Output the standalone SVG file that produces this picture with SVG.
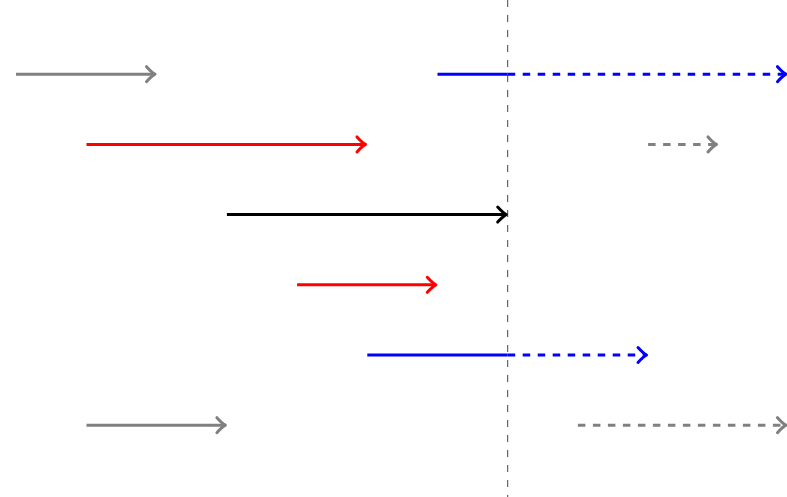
<svg xmlns="http://www.w3.org/2000/svg" width="787" height="497" viewBox="0 0 787 497">
  <style>
    .a { fill: none; stroke-width: 3; }
    .d { stroke-dasharray: 7.5 7.5; }
    .gray { stroke: #808080; }
    .red { stroke: #ff0000; }
    .blue { stroke: #0000ff; }
    .black { stroke: #000000; }
    .tip { fill: none; stroke-width: 3; stroke-linecap: round; stroke-linejoin: round; }
    .axis { stroke: #444444; stroke-width: 1; stroke-dasharray: 7 8; fill: none; }
  </style>
  <defs>
    <marker id="mGray" markerUnits="userSpaceOnUse" viewBox="-13 -11 15 22" markerWidth="15" markerHeight="22" refX="0" refY="0" orient="auto" overflow="visible">
      <path class="tip" stroke="#808080" d="M -8.5 -7.5 Q -3 -1.5 0 0 Q -3 1.5 -8.5 7.5"/>
    </marker>
    <marker id="mRed" markerUnits="userSpaceOnUse" viewBox="-13 -11 15 22" markerWidth="15" markerHeight="22" refX="0" refY="0" orient="auto" overflow="visible">
      <path class="tip" stroke="#ff0000" d="M -8.5 -7.5 Q -3 -1.5 0 0 Q -3 1.5 -8.5 7.5"/>
    </marker>
    <marker id="mBlue" markerUnits="userSpaceOnUse" viewBox="-13 -11 15 22" markerWidth="15" markerHeight="22" refX="0" refY="0" orient="auto" overflow="visible">
      <path class="tip" stroke="#0000ff" d="M -8.5 -7.5 Q -3 -1.5 0 0 Q -3 1.5 -8.5 7.5"/>
    </marker>
    <marker id="mBlack" markerUnits="userSpaceOnUse" viewBox="-13 -11 15 22" markerWidth="15" markerHeight="22" refX="0" refY="0" orient="auto" overflow="visible">
      <path class="tip" stroke="#000000" d="M -8.5 -7.5 Q -3 -1.5 0 0 Q -3 1.5 -8.5 7.5"/>
    </marker>
  </defs>

  <rect width="787" height="497" fill="#ffffff"/>

  <g id="now-line">
    <line class="axis" x1="507.7" y1="0" x2="507.7" y2="497"/>
  </g>

  <g id="connectors">
    <g id="row1">
      <line class="a gray" x1="16" y1="74.2" x2="155" y2="74.2" marker-end="url(#mGray)"/>
      <line class="a blue" x1="437.5" y1="74.2" x2="507.7" y2="74.2"/>
      <line class="a blue d" x1="507.7" y1="74.2" x2="786" y2="74.2" marker-end="url(#mBlue)"/>
    </g>
    <g id="row2">
      <line class="a red" x1="86.5" y1="144.4" x2="365.5" y2="144.4" marker-end="url(#mRed)"/>
      <line class="a gray d" x1="648.1" y1="144.4" x2="716.5" y2="144.4" marker-end="url(#mGray)"/>
    </g>
    <g id="row3">
      <line class="a black" x1="226.9" y1="214.6" x2="506.2" y2="214.6" marker-end="url(#mBlack)"/>
    </g>
    <g id="row4">
      <line class="a red" x1="297.1" y1="284.8" x2="435.8" y2="284.8" marker-end="url(#mRed)"/>
    </g>
    <g id="row5">
      <line class="a blue" x1="367.3" y1="355" x2="507.7" y2="355"/>
      <line class="a blue d" x1="507.7" y1="355" x2="646.5" y2="355" marker-end="url(#mBlue)"/>
    </g>
    <g id="row6">
      <line class="a gray" x1="86.5" y1="425.2" x2="225.4" y2="425.2" marker-end="url(#mGray)"/>
      <line class="a gray d" x1="577.9" y1="425.2" x2="786" y2="425.2" marker-end="url(#mGray)"/>
    </g>
  </g>
</svg>
